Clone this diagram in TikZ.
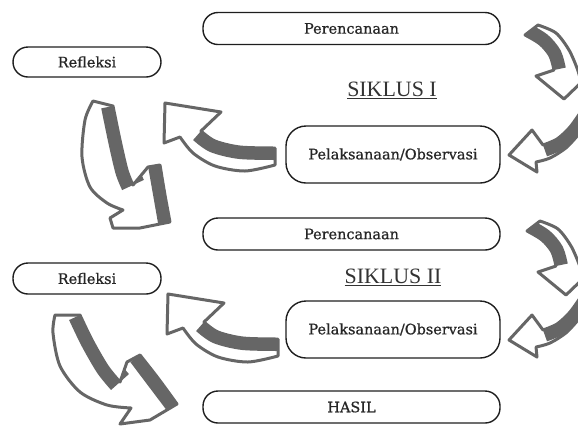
\documentclass[tikz,border=0pt]{standalone}
\usepackage{fontspec}
\newfontfamily\boxfont[FakeBold=0.8]{DejaVu Serif}
\newfontfamily\siklusfont{Liberation Serif}
\definecolor{arrowgray}{RGB}{102,102,102}
\definecolor{boxline}{RGB}{30,30,30}
\newcommand\sketcharrow[2]{%
  \begin{scope}
    \fill[white] #1;
    \clip #1;
    \draw[arrowgray, line width=24bp] #2;
  \end{scope}
  \draw[arrowgray, line width=3bp, line join=round] #1;
}
\begin{document}
\begin{tikzpicture}[x=1bp,y=-1bp,
  pill/.style={draw=boxline, line width=1.4bp, rounded corners=15bp, minimum width=297bp, minimum height=32bp, inner sep=0pt, font=\boxfont\fontsize{14.5}{16}\selectfont, text=black!85},
  smallpill/.style={pill, minimum width=148bp, minimum height=30bp},
  bigbox/.style={draw=boxline, line width=1.4bp, rounded corners=20bp, minimum width=214bp, minimum height=57bp, inner sep=0pt, font=\boxfont\fontsize{14.5}{16}\selectfont, text=black!85},
  title/.style={font=\siklusfont\fontsize{22}{24}\selectfont, text=black!80}]
\useasboundingbox (0,0) rectangle (578,426);
\clip (0,0) rectangle (578,426);

% boxes
\node[pill] (per1) at (351.5,28.5) {Perencanaan};
\node[smallpill] (ref1) at (87,62) {Refleksi};
\node[title] (sik1) at (392,90) {\underline{SIKLUS I}};
\node[bigbox] (pel1) at (393,154.5) {Pelaksanaan/Observasi};
\node[pill] (per2) at (351.5,234) {Perencanaan};
\node[smallpill, minimum height=31bp] (ref2) at (87,278.5) {Refleksi};
\node[title] (sik2) at (393,277) {\underline{SIKLUS II}};
\node[bigbox] (pel2) at (393,329.5) {Pelaksanaan/Observasi};
\node[pill] (hasil) at (351.5,407) {HASIL};

% arrow A (Perencanaan -> down)
\foreach \dy/\dx in {0/0, 196/2}{
\begin{scope}[shift={(\dx,\dy)}]
\sketcharrow{(525,35) -- plot[smooth] coordinates {(538,25) (556,33) (569,50) (577,68) (580,78)} -- (590,74) -- (564,99) -- (536,76) -- plot[smooth] coordinates {(554,70) (550,56) (540,44) (525,35)} -- cycle}
{plot[smooth] coordinates {(554,70) (550,56) (540,44) (525,35)}}
\end{scope}}

% arrow B (-> Pelaksanaan)
\foreach \dy in {0,185}{
\begin{scope}[shift={(0,\dy)}]
\sketcharrow{(582,110) -- plot[smooth] coordinates {(582,110) (570,127) (557,139) (543,145)} -- (532,130) -- (509,155) -- (537,172) -- plot[smooth] coordinates {(536,162) (550,158) (567,147) (584,128)} -- cycle}
{plot[smooth] coordinates {(582,110) (570,127) (557,139) (543,145)}}
\end{scope}}

% arrow C (Pelaksanaan -> Refleksi)
\foreach \dy/\dx in {0/0, 191/3}{
\begin{scope}[shift={(\dx,\dy)}]
\sketcharrow{(165,103) -- (221,112) -- plot[smooth] coordinates {(201,131) (215,141) (240,147) (275,148)} -- (275,165) -- plot[smooth] coordinates {(275,165) (245,171) (215,166) (193,153) (180,137)} -- (164,143) -- cycle}
{plot[smooth] coordinates {(201,131) (215,141) (240,147) (275,148)}}
\end{scope}}

% arrow D1 (Refleksi -> next cycle)
\sketcharrow{(93,101) -- plot[smooth] coordinates {(113,106) (120,140) (127,170) (133,185)} -- (148,167) -- (160,165) -- plot[smooth] coordinates {(160,165) (165,195) (170,222)} -- (140,228) -- (113,228) -- (110,218) -- plot[smooth] coordinates {(123,210) (107,203) (90,187) (82,157) (85,120) (93,101)} -- cycle}
{plot[smooth] coordinates {(113,106) (120,140) (127,170) (133,185)} (160,165) -- (170,222)}

% arrow D2 (Refleksi -> Hasil)
\sketcharrow{(55,315) -- plot[smooth] coordinates {(80,315) (92,340) (107,366) (120,382)} -- (127,362) -- plot[smooth] coordinates {(140,355) (158,378) (177,404)} -- (150,420) -- (120,424) -- plot[smooth] coordinates {(131,408) (107,405) (80,392) (60,366) (53,333) (55,315)} -- cycle}
{plot[smooth] coordinates {(80,315) (92,340) (107,366) (120,382)} (140,355) -- (177,404)}
\end{tikzpicture}
\end{document}
